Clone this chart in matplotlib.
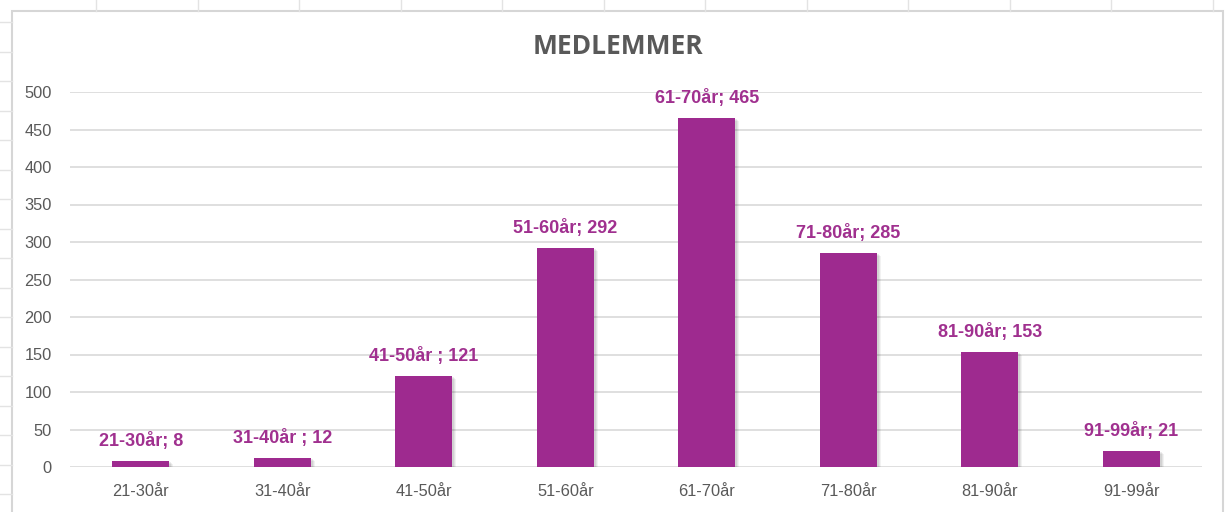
import matplotlib
matplotlib.use("Agg")
import matplotlib.pyplot as plt
from matplotlib.lines import Line2D
from matplotlib.patches import Rectangle
import matplotlib.transforms as mtransforms

categories = ["21-30år", "31-40år", "41-50år", "51-60år", "61-70år", "71-80år", "81-90år", "91-99år"]
values = [8, 12, 121, 292, 465, 285, 153, 21]
data_labels = ["21-30år; 8", "31-40år ; 12", "41-50år ; 121", "51-60år; 292",
               "61-70år; 465", "71-80år; 285", "81-90år; 153", "91-99år; 21"]
yticks = [0, 50, 100, 150, 200, 250, 300, 350, 400, 450, 500]
title = "MEDLEMMER"

W, H = 1225, 512
fig = plt.figure(figsize=(W / 100, H / 100), dpi=100)
fig.patch.set_facecolor("white")

# spreadsheet grid behind chart
grid_col = "#e3e3e3"
for k in range(12):
    x = 96 + 101.5 * k
    fig.add_artist(Line2D([x / W, x / W], [1, 1 - 11 / H], color=grid_col, lw=1))
for k in range(17):
    y = 22.3 + 29.5 * k
    fig.add_artist(Line2D([0, 12 / W], [1 - y / H, 1 - y / H], color=grid_col, lw=1))
# chart border
border = Rectangle((12.5 / W, -0.05), (1223 - 12.5) / W, 1.05 - 11 / H,
                   transform=fig.transFigure, facecolor="white",
                   edgecolor="#d6d6d6", lw=1.5, zorder=0.5)
fig.add_artist(border)

ax = fig.add_axes([70 / W, (H - 467) / H, (1202 - 70) / W, (467 - 92) / H])
ax.set_facecolor("none")
ax.set_zorder(2)

x = list(range(len(categories)))
bar_color = "#9E2A8F"
# soft shadow
for dx, dy, a in [(4, -3, 0.05), (3, -2, 0.06), (2, -1, 0.07)]:
    off = mtransforms.offset_copy(ax.transData, fig=fig, x=dx, y=dy, units="dots")
    ax.bar(x, values, width=0.40, color="black", alpha=a, transform=off, zorder=2)
ax.bar(x, values, width=0.40, color=bar_color, zorder=3)

ax.set_xlim(-0.5, len(categories) - 0.5)
ax.set_ylim(0, 500)
ax.set_yticks(yticks)
ax.set_xticks(x)
ax.set_xticklabels(categories)
ax.grid(axis="y", color="#d9d9d9", lw=1.2, zorder=0)
ax.set_axisbelow(True)
for s in ax.spines.values():
    s.set_visible(False)
ax.tick_params(axis="both", length=0, colors="#595959", labelsize=11.8)
ax.tick_params(axis="y", pad=13)
ax.tick_params(axis="x", pad=12)
for lab in ax.get_xticklabels() + ax.get_yticklabels():
    lab.set_family(["Liberation Sans", "DejaVu Sans"])

for xi, v, t in zip(x, values, data_labels):
    ax.annotate(t, (xi, v), xytext=(0, 14.5), textcoords="offset points",
                ha="center", va="center", color="#A0308F", fontsize=13,
                fontweight="bold", family=["Liberation Sans", "DejaVu Sans"],
                annotation_clip=False, zorder=5)

fig.text(618 / W, 1 - 46 / H, title, ha="center", va="center", fontsize=19,
         fontweight="bold", color="#595959", family=["Open Sans", "DejaVu Sans"])

fig.savefig("out.png", dpi=100)
